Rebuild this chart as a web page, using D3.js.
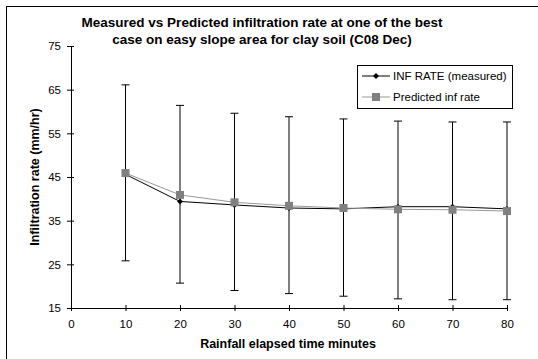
<!DOCTYPE html>
<html>
<head>
<meta charset="utf-8">
<script src="https://cdn.jsdelivr.net/npm/d3@7/dist/d3.min.js"></script>
<style>
  body { margin: 0; background: #fff; }
  svg { display: block; font-family: "Liberation Sans", Arial, sans-serif; }
</style>
</head>
<body>
<svg id="chart" width="538" height="359"></svg>
<script>
// elapsed time (minutes)
const minutes = [10, 20, 30, 40, 50, 60, 70, 80];
// INF RATE (measured), mm/hr
const measured = [45.6, 39.4, 38.6, 37.9, 37.7, 38.2, 38.2, 37.7];
// predicted inf rate, mm/hr
const predicted = [45.9, 40.9, 39.2, 38.4, 37.9, 37.6, 37.5, 37.2];
// error bar ends on measured series
const errLow = [25.8, 20.7, 19.0, 18.3, 17.7, 17.1, 16.9, 16.9];
const errHigh = [66.1, 61.4, 59.6, 58.8, 58.3, 57.8, 57.6, 57.6];
const xTicks = [0, 10, 20, 30, 40, 50, 60, 70, 80];
const yTicks = [15, 25, 35, 45, 55, 65, 75];

const titleLines = [
  'Measured vs Predicted infiltration rate at one of the best',
  'case on easy slope area for clay soil (C08 Dec)'
];

const svg = d3.select('#chart');

// outer frame
svg.append('rect')
  .attr('x', 6.5).attr('y', 6.5)
  .attr('width', 560).attr('height', 380)
  .attr('fill', 'none').attr('stroke', '#000').attr('stroke-width', 1);

const x = d3.scaleLinear().domain([0, 80]).range([71, 507]);
const y = d3.scaleLinear().domain([15, 75]).range([308, 46]);

// title
svg.append('g').selectAll('text')
  .data(titleLines)
  .join('text')
  .attr('x', 262)
  .attr('y', (d, i) => 27 + i * 17)
  .attr('text-anchor', 'middle')
  .attr('font-size', 13.5)
  .attr('font-weight', 'bold')
  .text(d => d);

// axes
const gx = svg.append('g')
  .attr('transform', `translate(0,${y(15)})`)
  .call(d3.axisBottom(x).tickValues(xTicks).tickSize(0).tickPadding(12));
gx.select('.domain').attr('stroke', '#000');
gx.selectAll('.tick').append('line')
  .attr('y1', -3).attr('y2', 3).attr('stroke', '#000');
gx.selectAll('text').attr('font-size', 11.5).attr('font-family', null);

const gy = svg.append('g')
  .attr('transform', `translate(${x(0)},0)`)
  .call(d3.axisLeft(y).tickValues(yTicks).tickSize(0).tickPadding(10));
gy.select('.domain').attr('stroke', '#000');
gy.selectAll('.tick').append('line')
  .attr('x1', -4).attr('x2', 3).attr('stroke', '#000');
gy.selectAll('text').attr('font-size', 11.5).attr('font-family', null);

// axis titles
svg.append('text')
  .attr('x', 288).attr('y', 348)
  .attr('text-anchor', 'middle')
  .attr('font-size', 12.5).attr('font-weight', 'bold')
  .text('Rainfall elapsed time minutes');

svg.append('text')
  .attr('transform', `translate(39,${(y(15) + y(75)) / 2}) rotate(-90)`)
  .attr('text-anchor', 'middle')
  .attr('font-size', 12.5).attr('font-weight', 'bold')
  .text('Infiltration rate (mm/hr)');

// error bars
const eb = svg.append('g').selectAll('g')
  .data(minutes.map((m, i) => ({ m, lo: errLow[i], hi: errHigh[i] })))
  .join('g')
  .attr('stroke', '#000').attr('stroke-width', 1);
eb.append('line')
  .attr('x1', d => x(d.m)).attr('x2', d => x(d.m))
  .attr('y1', d => y(d.lo)).attr('y2', d => y(d.hi));
eb.append('line')
  .attr('x1', d => x(d.m) - 4).attr('x2', d => x(d.m) + 4)
  .attr('y1', d => y(d.hi)).attr('y2', d => y(d.hi));
eb.append('line')
  .attr('x1', d => x(d.m) - 4).attr('x2', d => x(d.m) + 4)
  .attr('y1', d => y(d.lo)).attr('y2', d => y(d.lo));

const line = d3.line().x(d => x(d[0])).y(d => y(d[1]));
const measPts = minutes.map((m, i) => [m, measured[i]]);
const predPts = minutes.map((m, i) => [m, predicted[i]]);

// measured series
svg.append('path').datum(measPts)
  .attr('d', line).attr('fill', 'none').attr('stroke', '#000').attr('stroke-width', 1);
const diamond = d3.symbol().type(d3.symbolDiamond2).size(22);
svg.append('g').selectAll('path')
  .data(measPts)
  .join('path')
  .attr('transform', d => `translate(${x(d[0])},${y(d[1])})`)
  .attr('d', diamond)
  .attr('fill', '#000');

// predicted series
svg.append('path').datum(predPts)
  .attr('d', line).attr('fill', 'none').attr('stroke', '#999').attr('stroke-width', 1);
svg.append('g').selectAll('rect')
  .data(predPts)
  .join('rect')
  .attr('x', d => x(d[0]) - 4).attr('y', d => y(d[1]) - 4)
  .attr('width', 8).attr('height', 8)
  .attr('fill', '#808080');

// legend
const legend = svg.append('g').attr('transform', 'translate(357,65)');
legend.append('rect')
  .attr('x', 0.5).attr('y', 0.5).attr('width', 155).attr('height', 43)
  .attr('fill', '#fff').attr('stroke', '#000');
const items = [
  { label: 'INF RATE (measured)', stroke: '#000', mark: 'diamond' },
  { label: 'Predicted inf rate', stroke: '#999', mark: 'square' }
];
const li = legend.selectAll('g.item').data(items).join('g')
  .attr('class', 'item')
  .attr('transform', (d, i) => `translate(0,${11 + i * 21})`);
li.append('line')
  .attr('x1', 5).attr('x2', 33).attr('y1', 0).attr('y2', 0)
  .attr('stroke', d => d.stroke);
li.filter(d => d.mark === 'diamond').append('path')
  .attr('transform', 'translate(19,0)')
  .attr('d', diamond).attr('fill', '#000');
li.filter(d => d.mark === 'square').append('rect')
  .attr('x', 15).attr('y', -4).attr('width', 8).attr('height', 8)
  .attr('fill', '#808080');
li.append('text')
  .attr('x', 36).attr('y', 4)
  .attr('font-size', 11.5)
  .text(d => d.label);
</script>
</body>
</html>
